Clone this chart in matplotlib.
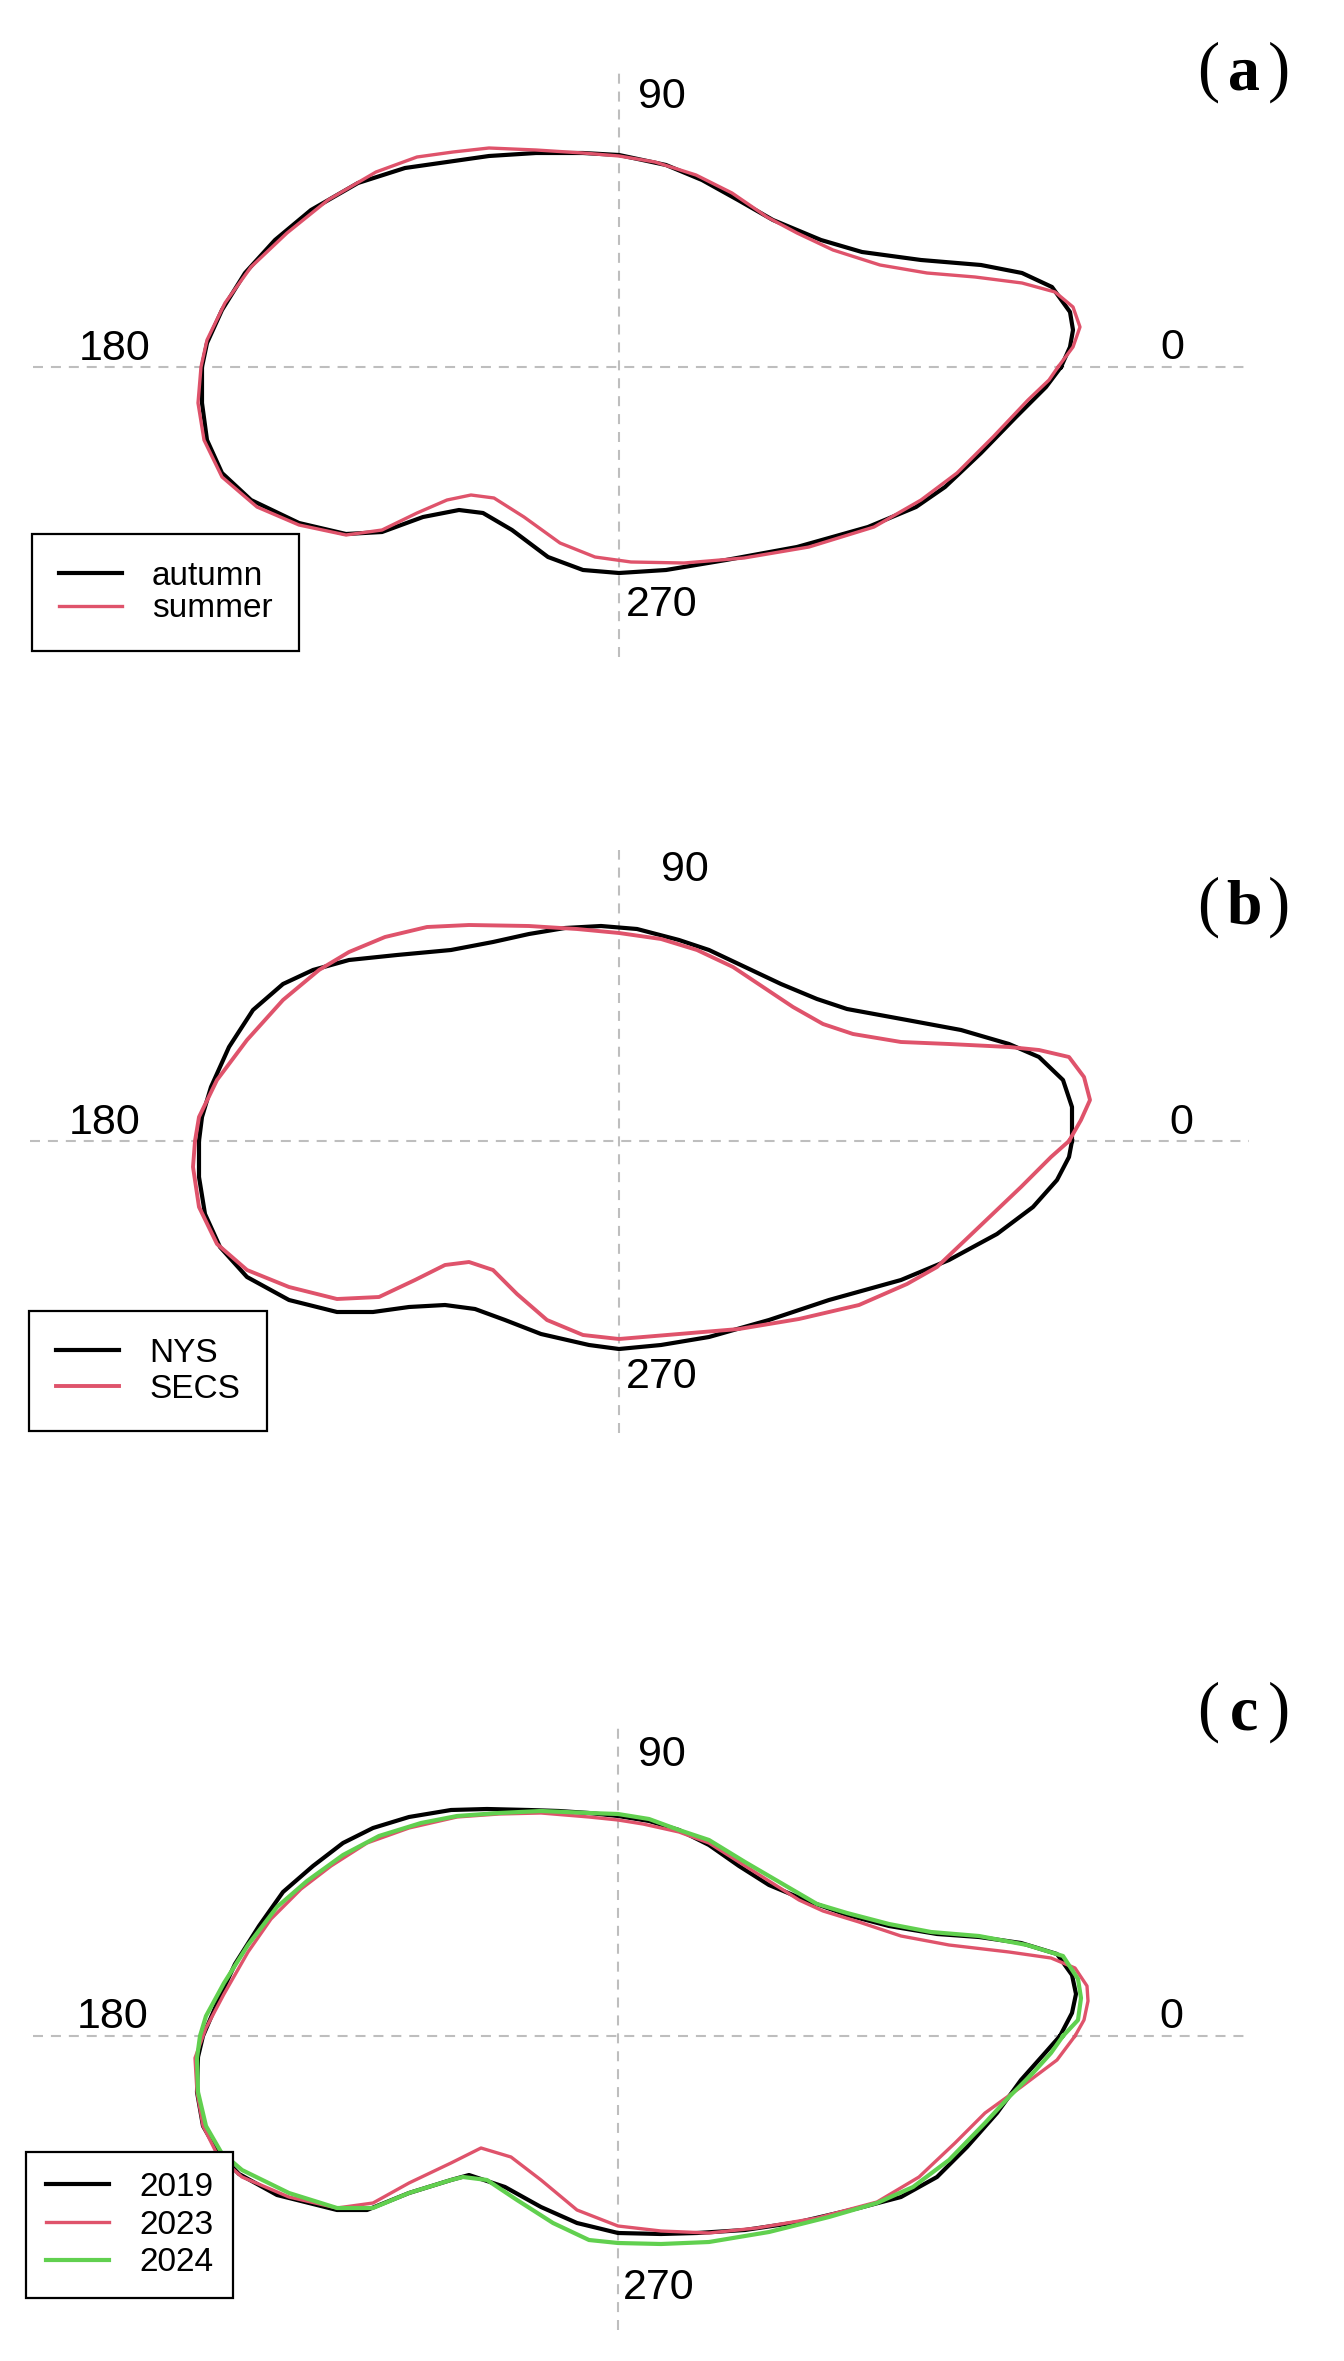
import matplotlib
matplotlib.use("Agg")
import matplotlib.pyplot as plt
import numpy as np

# ---- data: closed outlines (x, y), units of the original plot ----
a_autumn_x = [4.42, 4.51, 4.54, 4.51, 4.33, 4.03, 3.62, 3.02, 2.43, 2.02, 1.54, 1.19, 0.83, 0.47, 0.00, -0.36, -0.83, -1.30, -1.72, -2.14,
              -2.61, -3.08, -3.44, -3.74, -3.97, -4.12, -4.17, -4.17, -4.12, -3.97, -3.68, -3.20, -2.73, -2.37, -1.96, -1.60, -1.36, -1.07, -0.71, -0.36,
              0.00, 0.47, 1.07, 1.78, 2.49, 2.97, 3.26, 3.62, 3.97, 4.27]
a_autumn_y = [0.00, 0.20, 0.37, 0.55, 0.80, 0.94, 1.02, 1.07, 1.15, 1.27, 1.47, 1.67, 1.87, 2.02, 2.12, 2.14, 2.14, 2.11, 2.05, 1.99,
              1.84, 1.57, 1.27, 0.94, 0.57, 0.24, 0.00, -0.36, -0.73, -1.06, -1.33, -1.56, -1.67, -1.65, -1.50, -1.43, -1.46, -1.63, -1.90, -2.03,
              -2.06, -2.03, -1.93, -1.80, -1.60, -1.40, -1.20, -0.86, -0.50, -0.20]
a_summer_x = [4.39, 4.54, 4.61, 4.54, 4.36, 4.03, 3.56, 3.08, 2.61, 2.14, 1.78, 1.48, 1.13, 0.77, 0.36, 0.00, -0.36, -0.83, -1.30, -1.66,
              -2.02, -2.43, -2.91, -3.32, -3.68, -3.94, -4.12, -4.18, -4.21, -4.15, -3.97, -3.62, -3.20, -2.73, -2.37, -2.02, -1.72, -1.48, -1.25, -0.95,
              -0.59, -0.24, 0.12, 0.65, 1.25, 1.90, 2.55, 3.02, 3.38, 3.74, 4.09, 4.30]
a_summer_y = [0.00, 0.20, 0.40, 0.60, 0.75, 0.84, 0.90, 0.94, 1.02, 1.17, 1.34, 1.50, 1.74, 1.92, 2.05, 2.11, 2.14, 2.17, 2.19, 2.15,
              2.10, 1.95, 1.67, 1.34, 1.00, 0.64, 0.27, 0.00, -0.36, -0.73, -1.10, -1.40, -1.58, -1.68, -1.63, -1.46, -1.33, -1.28, -1.31, -1.50,
              -1.76, -1.90, -1.95, -1.96, -1.91, -1.80, -1.60, -1.33, -1.06, -0.70, -0.33, -0.13]

b_nys_x = [4.53, 4.53, 4.44, 4.20, 3.90, 3.42, 2.88, 2.28, 1.98, 1.62, 1.26, 0.90, 0.60, 0.18, -0.18, -0.54, -0.90, -1.26, -1.68, -2.22,
           -2.70, -3.06, -3.36, -3.66, -3.90, -4.08, -4.17, -4.20, -4.20, -4.14, -3.99, -3.72, -3.30, -2.82, -2.46, -2.10, -1.74, -1.44, -1.14, -0.78,
           -0.30, 0.00, 0.42, 0.90, 1.50, 2.10, 2.82, 3.30, 3.78, 4.14, 4.38, 4.50]
b_nys_y = [0.00, 0.34, 0.61, 0.84, 0.97, 1.11, 1.21, 1.32, 1.42, 1.57, 1.74, 1.91, 2.01, 2.12, 2.15, 2.13, 2.07, 1.99, 1.91, 1.86,
           1.81, 1.71, 1.57, 1.31, 0.94, 0.54, 0.24, 0.00, -0.36, -0.73, -1.06, -1.36, -1.59, -1.71, -1.71, -1.66, -1.64, -1.68, -1.79, -1.93,
           -2.04, -2.08, -2.04, -1.96, -1.79, -1.59, -1.39, -1.19, -0.93, -0.66, -0.39, -0.16]
b_secs_x = [4.50, 4.62, 4.71, 4.65, 4.50, 4.20, 3.90, 3.30, 2.82, 2.34, 2.04, 1.74, 1.44, 1.14, 0.78, 0.42, 0.00, -0.42, -0.90, -1.50,
            -1.92, -2.34, -2.70, -3.00, -3.36, -3.72, -4.02, -4.20, -4.24, -4.26, -4.20, -4.02, -3.72, -3.30, -2.82, -2.40, -2.04, -1.74, -1.50, -1.26,
            -1.02, -0.72, -0.36, 0.00, 0.60, 1.20, 1.80, 2.40, 2.88, 3.18, 3.60, 4.02, 4.32]
b_secs_y = [0.00, 0.21, 0.41, 0.64, 0.84, 0.91, 0.94, 0.97, 0.99, 1.07, 1.17, 1.34, 1.54, 1.74, 1.91, 2.02, 2.08, 2.12, 2.15, 2.16,
            2.14, 2.04, 1.89, 1.71, 1.41, 1.01, 0.61, 0.24, 0.00, -0.26, -0.66, -1.03, -1.29, -1.46, -1.58, -1.56, -1.39, -1.24, -1.21, -1.29,
            -1.53, -1.79, -1.94, -1.98, -1.93, -1.88, -1.78, -1.64, -1.43, -1.26, -0.86, -0.46, -0.16]

c_2019_x = [4.42, 4.54, 4.58, 4.54, 4.39, 4.03, 3.61, 3.19, 2.71, 2.29, 1.87, 1.51, 1.21, 0.91, 0.61, 0.31, 0.00, -0.29, -0.59, -0.89,
            -1.31, -1.67, -2.09, -2.45, -2.75, -3.05, -3.35, -3.59, -3.83, -4.00, -4.15, -4.20, -4.21, -4.15, -4.00, -3.79, -3.41, -2.81, -2.51, -2.09,
            -1.67, -1.49, -1.13, -0.77, -0.41, 0.00, 0.43, 0.79, 1.27, 1.81, 2.41, 2.83, 3.19, 3.49, 3.79, 4.03, 4.27]
c_2019_y = [0.00, 0.23, 0.42, 0.61, 0.82, 0.93, 0.99, 1.02, 1.10, 1.21, 1.36, 1.51, 1.70, 1.91, 2.06, 2.15, 2.20, 2.23, 2.25, 2.26,
            2.27, 2.26, 2.19, 2.08, 1.93, 1.70, 1.44, 1.10, 0.72, 0.35, 0.00, -0.21, -0.56, -0.90, -1.16, -1.38, -1.59, -1.74, -1.74, -1.57,
            -1.44, -1.39, -1.51, -1.71, -1.87, -1.97, -1.98, -1.97, -1.94, -1.86, -1.72, -1.61, -1.41, -1.11, -0.77, -0.44, -0.17]
c_2023_x = [4.57, 4.66, 4.70, 4.69, 4.57, 4.33, 3.91, 3.31, 2.83, 2.41, 2.05, 1.81, 1.51, 1.21, 0.91, 0.61, 0.25, 0.00, -0.29, -0.77,
            -1.19, -1.61, -2.09, -2.51, -2.87, -3.17, -3.47, -3.70, -3.94, -4.12, -4.23, -4.21, -4.15, -4.00, -3.76, -3.29, -2.81, -2.45, -2.09, -1.67,
            -1.37, -1.07, -0.77, -0.41, 0.00, 0.43, 0.91, 1.39, 1.99, 2.59, 3.01, 3.37, 3.67, 4.03, 4.39]
c_2023_y = [0.00, 0.16, 0.35, 0.50, 0.68, 0.78, 0.84, 0.91, 1.00, 1.14, 1.25, 1.36, 1.55, 1.74, 1.93, 2.04, 2.12, 2.16, 2.19, 2.23,
            2.22, 2.19, 2.08, 1.93, 1.70, 1.47, 1.17, 0.84, 0.42, 0.08, -0.22, -0.56, -0.90, -1.20, -1.41, -1.61, -1.72, -1.67, -1.47, -1.27,
            -1.12, -1.21, -1.44, -1.74, -1.90, -1.95, -1.97, -1.92, -1.82, -1.66, -1.41, -1.07, -0.77, -0.51, -0.24]
c_2024_x = [4.45, 4.60, 4.63, 4.60, 4.45, 4.09, 3.61, 3.13, 2.71, 2.29, 1.99, 1.63, 1.27, 0.91, 0.61, 0.31, 0.00, -0.29, -0.77, -1.19,
            -1.61, -1.97, -2.39, -2.75, -3.11, -3.41, -3.70, -3.94, -4.12, -4.18, -4.21, -4.20, -4.12, -3.97, -3.76, -3.29, -2.81, -2.45, -2.09, -1.67,
            -1.55, -1.31, -1.01, -0.65, -0.29, 0.00, 0.43, 0.91, 1.51, 2.11, 2.59, 2.95, 3.31, 3.67, 3.91, 4.15, 4.33]
c_2024_y = [0.00, 0.16, 0.38, 0.57, 0.80, 0.91, 1.00, 1.04, 1.12, 1.23, 1.32, 1.53, 1.74, 1.96, 2.06, 2.17, 2.22, 2.23, 2.25, 2.23,
            2.20, 2.13, 2.00, 1.81, 1.55, 1.29, 0.91, 0.53, 0.20, 0.00, -0.22, -0.56, -0.90, -1.16, -1.34, -1.57, -1.72, -1.72, -1.57, -1.44,
            -1.41, -1.44, -1.64, -1.87, -2.04, -2.07, -2.08, -2.06, -1.96, -1.81, -1.67, -1.51, -1.24, -0.87, -0.61, -0.37, -0.17]

angle_labels = ["0", "90", "180", "270"]
panel_letters = ["a", "b", "c"]

RED = "#DF536B"
GREEN = "#61D04F"
W, H = 1344, 2361

fig = plt.figure(figsize=(W / 100, H / 100), dpi=100)
plt.rcParams['font.family'] = ['Liberation Sans', 'DejaVu Sans']


def make_axes(cx, cy, xlim, ylim):
    # 1 data unit = 100 px, centre of the cross at (cx, cy) in image pixels
    x0 = cx + xlim[0] * 100
    x1 = cx + xlim[1] * 100
    y_top = cy - ylim[1] * 100
    y_bot = cy - ylim[0] * 100
    ax = fig.add_axes([x0 / W, 1 - y_bot / H, (x1 - x0) / W, (y_bot - y_top) / H])
    ax.set_xlim(*xlim)
    ax.set_ylim(*ylim)
    ax.axis("off")
    ax.axhline(0, color="#BEBEBE", lw=1.5, ls=(0, (4.8, 3.8)), zorder=0)
    ax.axvline(0, color="#BEBEBE", lw=1.5, ls=(0, (4.8, 3.8)), zorder=0)
    return ax


def closed(v):
    return np.append(v, v[0])


def angle_text(ax, pos):
    for lab, (x, y) in zip(angle_labels, pos):
        ax.text(x, y, lab, fontsize=31, ha="center", va="center", clip_on=False)


def panel_tag(letter, y_base):
    fig.text(1208 / W, 1 - y_base / H, "(", fontsize=48, family="Liberation Serif", ha="center", va="baseline")
    fig.text(1244 / W, 1 - y_base / H, letter, fontsize=46, family="Liberation Serif", weight="bold", ha="center", va="baseline")
    fig.text(1279 / W, 1 - y_base / H, ")", fontsize=48, family="Liberation Serif", ha="center", va="baseline")


def add_legend(ax, left, top, spacing, pad):
    leg = ax.legend(loc="upper left", bbox_to_anchor=(left / W, 1 - top / H), bbox_transform=fig.transFigure,
                    borderaxespad=0, fontsize=24,
                    frameon=True, fancybox=False, edgecolor="black", framealpha=1,
                    handlelength=1.9, handletextpad=0.9, borderpad=pad, labelspacing=spacing)
    leg.get_frame().set_linewidth(1.6)


# (a)
ax = make_axes(619, 367, (-5.86, 6.28), (-2.90, 2.97))
ax.plot(closed(a_autumn_x), closed(a_autumn_y), color="black", lw=3.0, label="autumn",
        solid_joinstyle="round")
ax.plot(closed(a_summer_x), closed(a_summer_y), color=RED, lw=2.4, label="summer",
        solid_joinstyle="round")
angle_text(ax, [(5.53, 0.19), (0.43, 2.70), (-5.04, 0.18), (0.43, -2.38)])
add_legend(ax, 32, 534, 0.05, 0.8)
panel_tag(panel_letters[0], 89)

# (b)
ax = make_axes(619, 1141, (-5.89, 6.30), (-2.92, 2.91))
ax.plot(closed(b_nys_x), closed(b_nys_y), color="black", lw=3.0, label="NYS",
        solid_joinstyle="round")
ax.plot(closed(b_secs_x), closed(b_secs_y), color=RED, lw=2.8, label="SECS",
        solid_joinstyle="round")
angle_text(ax, [(5.62, 0.18), (0.66, 2.71), (-5.14, 0.18), (0.43, -2.36)])
add_legend(ax, 29, 1311, 0.15, 0.8)
panel_tag(panel_letters[1], 924)

# (c)
ax = make_axes(618, 2036, (-5.85, 6.29), (-2.94, 3.11))
ax.plot(closed(c_2019_x), closed(c_2019_y), color="black", lw=3.0, label="2019",
        solid_joinstyle="round")
ax.plot(closed(c_2023_x), closed(c_2023_y), color=RED, lw=2.4, label="2023",
        solid_joinstyle="round")
ax.plot(closed(c_2024_x), closed(c_2024_y), color=GREEN, lw=3.0, label="2024",
        solid_joinstyle="round")
angle_text(ax, [(5.53, 0.19), (0.44, 2.81), (-5.05, 0.19), (0.41, -2.52)])
add_legend(ax, 26, 2152, 0.2, 0.6)
panel_tag(panel_letters[2], 1729)

fig.savefig("out.png", dpi=100, facecolor="white")
